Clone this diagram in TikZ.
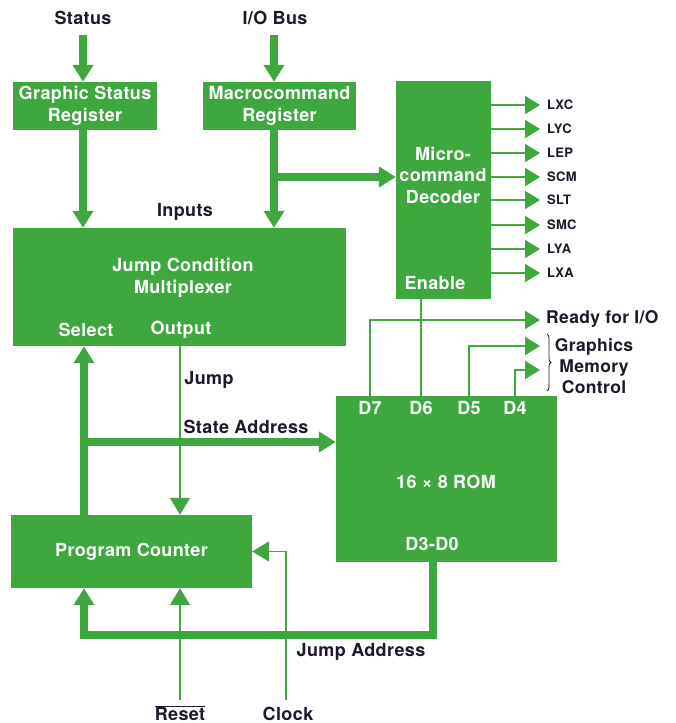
\documentclass[tikz,border=0pt]{standalone}
\usepackage{fontspec}
\setmainfont{TeX Gyre Heros}[LetterSpace=2]
\usetikzlibrary{arrows.meta,decorations.pathreplacing}
\definecolor{hpgreen}{RGB}{62,168,62}
\definecolor{ink}{RGB}{30,25,40}
\begin{document}
\begin{tikzpicture}[x=1pt,y=-1pt,
  box/.style={fill=hpgreen, draw=none, text=white, align=center, inner sep=0pt,
    font=\bfseries\fontsize{18}{22}\selectfont},
  inlbl/.style={text=white, inner sep=0pt, align=center,
    font=\bfseries\fontsize{18}{21.5}\selectfont},
  lbl/.style={text=ink, inner sep=0pt, align=center,
    font=\bfseries\fontsize{18}{21}\selectfont},
  sig/.style={text=ink, inner sep=0pt, anchor=west,
    font=\bfseries\fontsize{13}{15}\selectfont},
  bus/.style={draw=hpgreen, line width=7.5pt, line join=miter,
    -{Triangle[width=20pt,length=17pt]}},
  wire/.style={draw=hpgreen, line width=1.8pt, line join=miter,
    -{Triangle[width=18pt,length=15pt]}},
  bigwire/.style={draw=hpgreen, line width=1.8pt, line join=miter,
    -{Triangle[width=20pt,length=17pt]}},
  plain/.style={draw=hpgreen, line width=1.8pt},
  ]
\useasboundingbox (0,0) rectangle (676,723);
\fill[white] (0,0) rectangle (676,723);

% ---- blocks ----
\node[box, minimum width=144pt, minimum height=48pt] (gsr) at (85,106) {Graphic Status\\Register};
\node[box, minimum width=153pt, minimum height=48pt] (mcr) at (279.5,106) {Macrocommand\\Register};
\node[box, minimum width=95pt, minimum height=218pt] (dec) at (443.5,190) {};
\node[inlbl] (dect) at (443,175) {Micro-\\command\\Decoder};
\node[inlbl] (en) at (435,283) {Enable};
\node[box, minimum width=333pt, minimum height=118pt] (jcm) at (179.5,287) {};
\node[inlbl] (jcmt) at (183,278) {Jump Condition\\Multiplexer};
\node[inlbl] (sel) at (86,330) {Select};
\node[inlbl] (out) at (181,330) {Output};
\node[box, minimum width=221pt, minimum height=166pt] (rom) at (446.5,479) {};
\node[inlbl] (d7) at (370,408) {D7};
\node[inlbl] (d6) at (421,408) {D6};
\node[inlbl] (d5) at (469,408) {D5};
\node[inlbl] (d4) at (515,408) {D4};
\node[inlbl] (romt) at (446,482) {16 × 8 ROM};
\node[inlbl] (d30) at (432,544) {D3-D0};
\node[box, minimum width=241pt, minimum height=73pt] (pc) at (131.5,551.5) {Program Counter};

% ---- outside labels ----
\node[lbl] (status) at (83,18) {Status};
\node[lbl] (iobus) at (275,18) {I/O Bus};
\node[lbl] (inputs) at (185,212) {Inputs};
\node[lbl] (jump) at (209,380) {Jump};
\node[lbl] (stad) at (246,427) {State Address};
\node[lbl] (jad) at (361,652) {Jump Address};
\node[lbl] (reset) at (180,713) {$\overline{\hbox{Reset}}$};
\node[lbl] (clock) at (288,714) {Clock};
\node[lbl, anchor=west, font=\bfseries\fontsize{17.5}{21}\selectfont] (rdy) at (546,319) {Ready for I/O};
\node[lbl, font=\bfseries\fontsize{17.5}{21}\selectfont] (gmc) at (594,366) {Graphics\\Memory\\Control};

% ---- coordinates for bus lanes ----
\coordinate (gx) at (83,0);
\coordinate (ix) at (274,0);
\coordinate (sx) at (84,0);
\coordinate (ox) at (180,0);
\coordinate (stin) at (83,35);
\coordinate (ioin) at (274,35);
\coordinate (br) at (274,177);
\coordinate (sa) at (84,442);
\coordinate (ja) at (433,635);
\coordinate (rst) at (180,700);
\coordinate (clk) at (286,700);
\coordinate (rdyin) at (540,320);
\coordinate (gm1) at (540,346);
\coordinate (gm2) at (540,370);

% ---- thick buses ----
\draw[bus] (stin) -- (stin |- gsr.north);
\draw[bus] (ioin) -- (ioin |- mcr.north);
\draw[bus] (gx |- gsr.south) -- (gx |- jcm.north);
\draw[bus] (ix |- mcr.south) -- (ix |- jcm.north);
\draw[bus] (br) -- (br -| dec.west);
\draw[bus] (sx |- pc.north) -- (sx |- jcm.south);
\draw[bus] (sa) -- (sa -| rom.west);
\draw[bus] (ja |- rom.south) -- (ja) -| (sx |- pc.south);

% ---- thin wires ----
\draw[bigwire] (ox |- jcm.south) -- (ox |- pc.north);
\draw[bigwire] (rst) -- (rst |- pc.south);
\draw[bigwire] (clk) |- (pc.east);
\draw[plain] (dec.south -| d6) -- (rom.north -| d6);
\draw[wire] (rom.north -| d7) |- (rdyin);
\draw[wire] (rom.north -| d5) |- (gm1);
\draw[wire] (rom.north -| d4) |- (gm2);

% ---- decoder outputs ----
\foreach \y/\name in {105/LXC,129/LYC,153/LEP,177/SCM,200/SLT,225/SMC,249/LYA,273/LXA}{
  \node[sig] (o\name) at (547,\y) {\name};
  \draw[wire] (dec.east |- o\name.west) -- ([xshift=-7pt]o\name.west);
}

% ---- brace ----
\draw[ink, line width=0.8pt, decorate, decoration={brace, amplitude=4pt}] (547,334) -- (547,391);
\end{tikzpicture}
\end{document}
